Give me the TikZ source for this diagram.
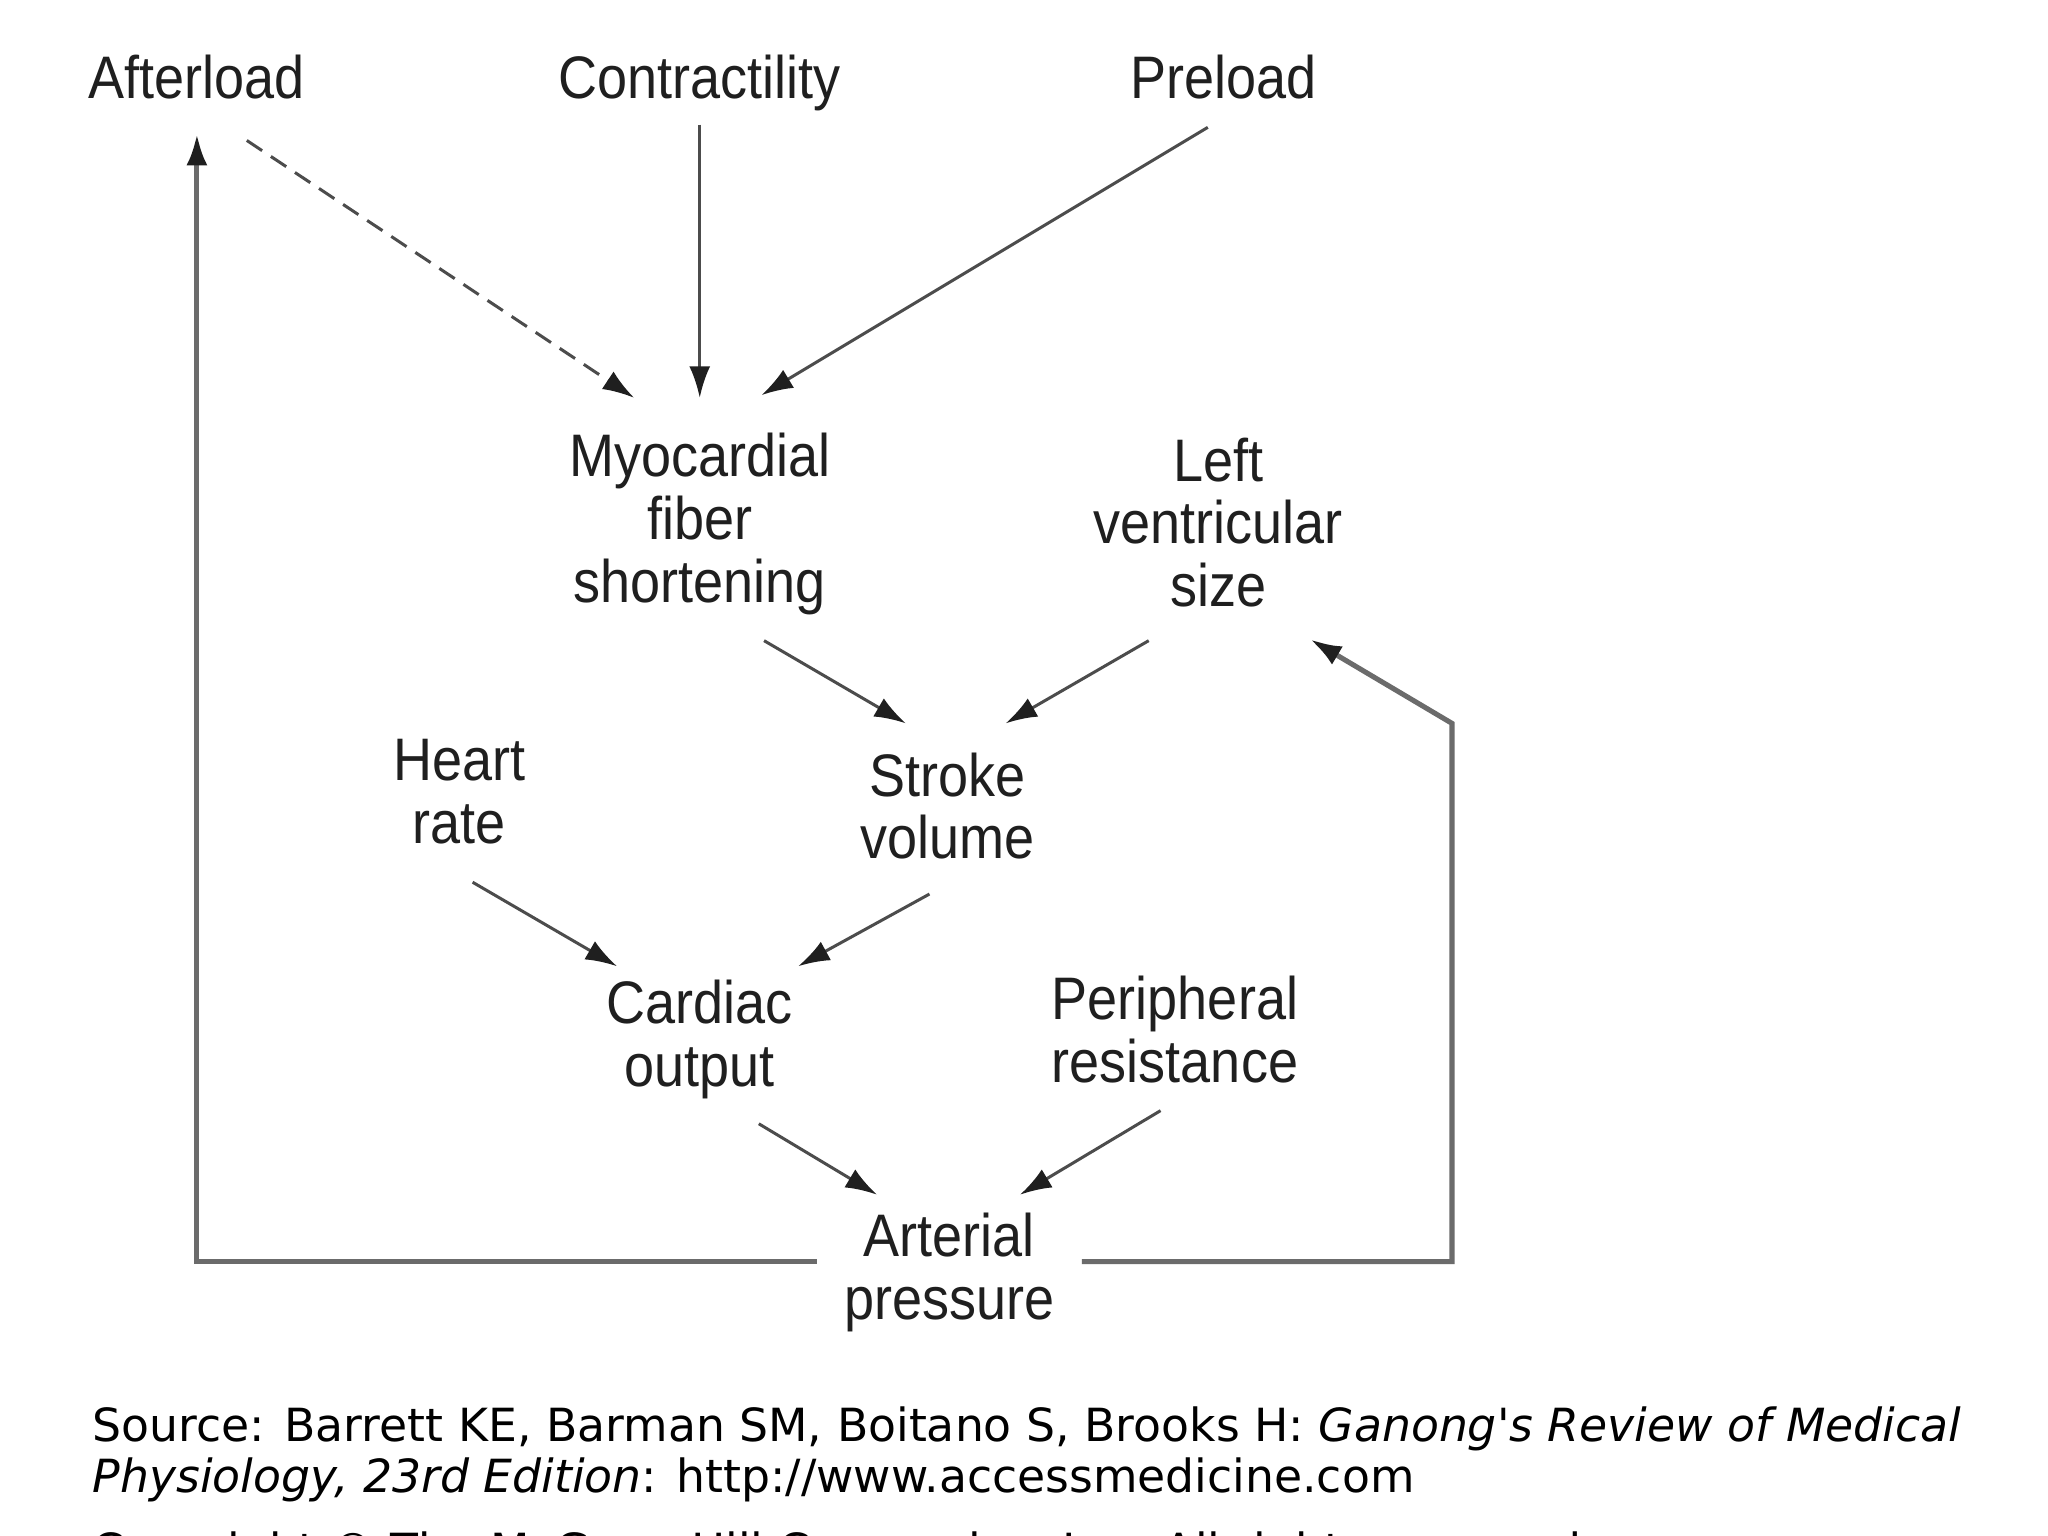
\documentclass[tikz,border=0pt]{standalone}
\usepackage{fontspec}
\setmainfont{Liberation Sans}[FakeStretch=0.9]
\newfontfamily\srcfont{DejaVu Sans}
\usetikzlibrary{arrows.meta}
\begin{document}
\begin{tikzpicture}[x=0.01cm,y=-0.01cm,
  lbl/.style={align=center,font=\fontsize{13}{13.6}\selectfont,text=black!88,inner sep=0pt},
  tip/.style={-{Latex[length=0.24cm,width=0.16cm,color=black!88]}},
  arr/.style={draw=black!70,line width=0.65pt,tip},
  fb/.style={draw=black!58,line width=1.1pt,tip},
  src/.style={anchor=base west,inner sep=0pt,font=\srcfont\fontsize{9.9}{11}\selectfont,text=black}]
\useasboundingbox (0,0) rectangle (1560,1170);
\fill[white] (0,0) rectangle (1560,1170);
\clip (0,0) rectangle (1560,1170);

% nodes
\node[lbl,anchor=base] (after) at (150,75) {Afterload};
\node[lbl,anchor=base] (contr) at (533,75) {Contractility};
\node[lbl,anchor=base] (pre) at (932,75) {Preload};
\node[lbl] (myo) at (533,399) {Myocardial\\fiber\\shortening};
\node[lbl] (lv) at (928,398) {Left\\ventricular\\size};
\node[lbl] (hr) at (350,603) {Heart\\rate};
\node[lbl] (sv) at (722,614) {Stroke\\volume};
\node[lbl] (co) at (533,792) {Cardiac\\output};
\node[lbl] (pr) at (895,784) {Peripheral\\resistance};
\node[lbl] (ap) at (723,969) {Arterial\\pressure};

% connector end points
\coordinate (afterS) at (188,107);
\coordinate (myoA) at (483,303);
\coordinate (contrS) at (533,95);
\coordinate (myoB) at (533,303);
\coordinate (preS) at (920,97);
\coordinate (myoC) at (580,301);
\coordinate (myoS) at (582,488);
\coordinate (svA) at (690,551);
\coordinate (lvS) at (875,488);
\coordinate (svB) at (766,551);
\coordinate (hrS) at (360,672);
\coordinate (coA) at (470,736);
\coordinate (svS) at (708,681);
\coordinate (coB) at (608,736);
\coordinate (coS) at (578,856);
\coordinate (apA) at (668,910);
\coordinate (prS) at (884,846);
\coordinate (apB) at (777,910);
\coordinate (apL) at (622,961);
\coordinate (cornL) at (150,961);
\coordinate (afterE) at (150,102);
\coordinate (apR) at (824,961);
\coordinate (cornR) at (1106,961);
\coordinate (cornR2) at (1106,551);
\coordinate (lvE) at (998,487);

% connectors
\draw[arr,dash pattern=on 0.14cm off 0.08cm] (afterS) -- (myoA);
\draw[arr] (contrS) -- (myoB);
\draw[arr] (preS) -- (myoC);
\draw[arr] (myoS) -- (svA);
\draw[arr] (lvS) -- (svB);
\draw[arr] (hrS) -- (coA);
\draw[arr] (svS) -- (coB);
\draw[arr] (coS) -- (apA);
\draw[arr] (prS) -- (apB);
\draw[fb] (apL) -- (cornL) -- (afterE);
\draw[fb] (apR) -- (cornR) -- (cornR2) -- (lvE);

% source text
\node[src] (src1) at (70,1098) {Source: Barrett KE, Barman SM, Boitano S, Brooks H: \itshape Ganong's Review of Medical};
\node[src] (src2) at (70,1137) {{\itshape Physiology, 23rd Edition}: http://www.accessmedicine.com};
\node[src] (src3) at (70,1193) {Copyright © The McGraw-Hill Companies, Inc. All rights reserved.};
\end{tikzpicture}
\end{document}
